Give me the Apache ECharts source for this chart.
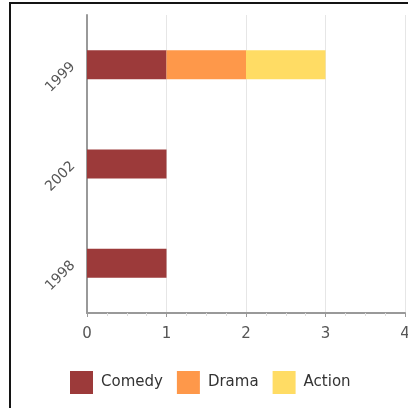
<!DOCTYPE html>
<html>
<head>
<meta charset="utf-8">
<style>
  html, body { margin: 0; padding: 0; background: #fff; }
  #chart { width: 408px; height: 408px; }
</style>
<script src="https://cdn.jsdelivr.net/npm/echarts@6/dist/echarts.min.js"></script>
</head>
<body>
<div id="chart"></div>
<script>
// Release years shown top to bottom
const years = ['1999', '2002', '1998'];
// Number of titles per genre in each year
const comedy = [1, 1, 1];
const drama = [1, 0, 0];
const action = [1, 0, 0];
const xTicks = [0, 1, 2, 3, 4];

const chart = echarts.init(document.getElementById('chart'), null, { renderer: 'canvas' });

const font = 'DejaVu Sans';
const mkSeries = (name, data, color) => ({
  name: name,
  type: 'bar',
  stack: 'genre',
  barWidth: 29,
  data: data.map(v => (v === 0 ? null : v)),
  itemStyle: { color: color },
  emphasis: { disabled: true }
});

chart.setOption({
  animation: false,
  backgroundColor: '#ffffff',
  textStyle: { fontFamily: font },
  graphic: [{
    type: 'rect',
    shape: { x: 10, y: 3, width: 440, height: 440 },
    style: { fill: 'none', stroke: '#141414', lineWidth: 2 },
    z: 100
  }],
  grid: { left: 87, right: 3, top: 15, bottom: 95, containLabel: false, outerBoundsMode: 'none' },
  legend: {
    left: 70,
    top: 371,
    padding: 0,
    itemWidth: 23,
    itemHeight: 23,
    itemGap: 14,
    icon: 'rect',
    textStyle: { fontFamily: font, fontSize: 15, color: '#333', padding: [0, 0, 0, 3] },
    data: ['Comedy', 'Drama', 'Action']
  },
  xAxis: {
    type: 'value',
    min: xTicks[0],
    max: xTicks[xTicks.length - 1],
    interval: 1,
    axisLine: { show: true, lineStyle: { color: '#999', width: 2 } },
    axisTick: { show: true, length: 4, lineStyle: { color: '#999' } },
    minorTick: { show: true, splitNumber: 4, length: 3, lineStyle: { color: '#ddd' } },
    splitLine: { show: true, lineStyle: { color: '#e6e6e6' } },
    axisLabel: { color: '#555', fontSize: 15, fontFamily: font, margin: 14 }
  },
  yAxis: {
    type: 'category',
    inverse: true,
    data: years,
    axisLine: { show: true, lineStyle: { color: '#999', width: 2 } },
    axisTick: { show: false },
    axisLabel: { color: '#555', fontSize: 14, fontFamily: font, rotate: 45, margin: 14 }
  },
  series: [
    mkSeries('Comedy', comedy, '#9c3a3a'),
    mkSeries('Drama', drama, '#fe984a'),
    mkSeries('Action', action, '#ffdc64')
  ]
});
</script>
</body>
</html>
